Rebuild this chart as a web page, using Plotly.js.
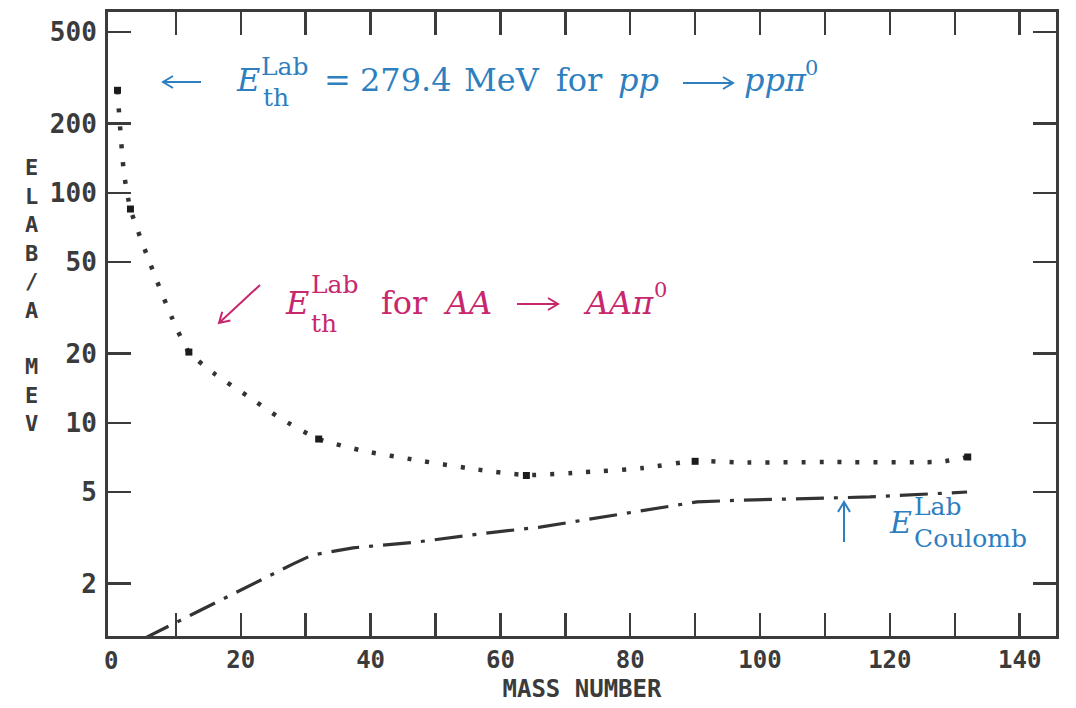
<!DOCTYPE html>
<html><head><meta charset="utf-8">
<script src="https://cdn.plot.ly/plotly-3.0.1.min.js"></script>
<style>html,body{margin:0;padding:0;background:#fff}#chart{width:1076px;height:708px}</style>
</head><body><div id="chart"></div>
<script>
// Data
const massNumbers = [1, 3, 12, 32, 64, 90, 132];
const thresholdPerNucleon = [279, 85, 20.3, 8.5, 5.9, 6.8, 7.1];
const curveMass = [1, 2, 3, 6, 9.4, 12, 16, 21, 26, 32, 39, 47, 56, 64, 73, 82, 90, 97, 110, 128, 132];
const curveThreshold = [279, 122, 85, 49.5, 28.6, 20.3, 16.3, 13.1, 10.5, 8.5, 7.54, 6.89, 6.29, 5.93, 6.1, 6.36, 6.82, 6.72, 6.75, 6.78, 7.1];
const coulombMass = [5, 15.4, 21.7, 28, 31, 37.3, 47.1, 56.5, 66.1, 75.7, 85.7, 90.3, 97.2, 106.9, 116.9, 131.9];
const coulombBarrier = [1.15, 1.61, 1.99, 2.43, 2.66, 2.86, 3.03, 3.28, 3.52, 3.89, 4.30, 4.53, 4.61, 4.67, 4.76, 5.0];
const xTickVals = [20, 40, 60, 80, 100, 120, 140];
const xTickText = ['20', '40', '60', '80', '100', '120', '140'];
const xMinorTickVals = [10, 30, 50, 70, 90, 110, 130];
const xZeroLabel = '0';
const yTickVals = [2, 5, 10, 20, 50, 100, 200, 500];
const yTickText = ['2', '5', '10', '20', '50', '100', '200', '500'];

const AX = '#3b3b3b';
const BLUE = '#2e7fc0';
const PINK = '#c8276e';
const SERIF = 'DejaVu Serif, Liberation Serif, serif';
const MONO = 'DejaVu Sans Mono, Liberation Mono, monospace';

const L = 108, T = 12, W = 948, H = 624;
const fx = px => (px - L) / W;
const fy = py => (T + H - py) / H;
function ann(text, cx, cy, size, color, anchor, family, italic) {
  const font = {family: family || SERIF, size: size, color: color};
  if (italic) font.style = 'italic';
  return {xref: 'paper', yref: 'paper', x: fx(cx), y: fy(cy),
    text: text, showarrow: false, xanchor: anchor || 'center', yanchor: 'middle', font: font};
}
function annB(text, cx, base, size, color, anchor, italic) {
  return ann(text, cx, base - 0.36 * size, size, color, anchor, SERIF, italic);
}
function arrow(x0, y0, x1, y1, color) {
  const dx = x1 - x0, dy = y1 - y0, len = Math.hypot(dx, dy);
  const ux = dx / len, uy = dy / len, h = 10, s = 0.6;
  const ax = x1 - h * ux + h * s * (-uy), ay = y1 - h * uy + h * s * ux;
  const bx = x1 - h * ux - h * s * (-uy), by = y1 - h * uy - h * s * ux;
  const P = (a, b) => fx(a) + ',' + fy(b);
  return {type: 'path', xref: 'paper', yref: 'paper',
    path: 'M' + P(x0, y0) + ' L' + P(x1, y1) + ' M' + P(ax, ay) + ' L' + P(x1, y1) + ' L' + P(bx, by),
    line: {color: color, width: 2}};
}

const SZ = 32, SM = 25, SUP = 21;
const annotations = [
  annB('E', 248, 92, SZ, BLUE, 'center', true),
  annB('Lab', 259, 75, SM, BLUE, 'left'),
  annB('th', 261, 107, SM, BLUE, 'left'),
  annB('=', 337, 92, SZ, BLUE),
  annB('279.4', 406, 92, SZ, BLUE),
  annB('MeV', 502, 92, SZ, BLUE),
  annB('for', 579, 92, SZ, BLUE),
  annB('pp', 638, 92, SZ, BLUE, 'center', true),
  annB('ppπ', 742, 92, SZ, BLUE, 'left', true),
  annB('0', 803, 76, SUP, BLUE, 'left'),

  annB('E', 297, 315, SZ, PINK, 'center', true),
  annB('Lab', 309, 293, SM, PINK, 'left'),
  annB('th', 309, 332, SM, PINK, 'left'),
  annB('for', 404, 315, SZ, PINK),
  annB('AA', 467, 315, SZ, PINK, 'center', true),
  annB('AAπ', 618, 315, SZ, PINK, 'center', true),
  annB('0', 652, 298, SUP, PINK, 'left'),

  annB('E', 900, 533, 30, BLUE, 'center', true),
  annB('Lab', 912, 515, SM, BLUE, 'left'),
  annB('Coulomb', 912, 547, SM, BLUE, 'left'),

  ann('<b>E<br>L<br>A<br>B<br>/<br>A</b>', 31, 239, 22, AX, 'center', MONO),
  ann('<b>M<br>E<br>V</b>', 31, 395, 22, AX, 'center', MONO),
  {xref: 'x', yref: 'paper', x: 0, y: fy(645), text: '<b>' + xZeroLabel + '</b>', showarrow: false,
   xanchor: 'center', yanchor: 'top', font: {family: MONO, size: 24, color: AX}}
];

const shapes = [
  arrow(201, 82, 163, 82, BLUE),
  arrow(683, 83, 733, 83, BLUE),
  arrow(260, 285, 219, 323, PINK),
  arrow(517, 304, 558, 304, PINK),
  arrow(844, 542, 844, 502, BLUE)
];

const traces = [
  {x: curveMass, y: curveThreshold, type: 'scatter', mode: 'lines',
   line: {color: '#333', width: 4.5, dash: '4px,14px', shape: 'spline', smoothing: 0.6}, hoverinfo: 'skip'},
  {x: coulombMass, y: coulombBarrier, type: 'scatter', mode: 'lines',
   line: {color: '#333', width: 3.2, dash: '28px,10px,4px,10px'}, hoverinfo: 'skip'},
  {x: massNumbers, y: thresholdPerNucleon, type: 'scatter', mode: 'markers',
   marker: {symbol: 'square', size: 7, color: '#1c1c1c'}}
];

const layout = {
  width: 1076, height: 708,
  margin: {l: L, r: 1076 - L - W, t: T, b: 708 - T - H},
  paper_bgcolor: '#fff', plot_bgcolor: '#fff',
  showlegend: false,
  xaxis: {range: [-0.46, 145.6], tickmode: 'array', tickvals: xTickVals, ticktext: xTickText,
    ticks: 'inside', ticklen: 23, tickwidth: 2.5, tickcolor: AX,
    minor: {tickmode: 'array', tickvals: xMinorTickVals, ticks: 'inside', ticklen: 23, tickwidth: 2.5, tickcolor: AX, showgrid: false},
    showline: true, linewidth: 3, linecolor: AX, mirror: 'allticks',
    showgrid: false, zeroline: false, ticklabelstandoff: 0,
    tickfont: {family: MONO, size: 24, color: AX, weight: 'bold'},
    title: {text: '<b>MASS NUMBER</b>', font: {family: MONO, size: 24, color: AX}, standoff: 8}},
  yaxis: {type: 'log', range: [0.073, 2.786], tickmode: 'array', tickvals: yTickVals, ticktext: yTickText,
    ticks: 'inside', ticklen: 23, tickwidth: 2.5, tickcolor: AX,
    showline: true, linewidth: 3, linecolor: AX, mirror: 'allticks',
    showgrid: false, zeroline: false, ticklabelstandoff: 3,
    tickfont: {family: MONO, size: 26, color: AX, weight: 'bold'}},
  annotations: annotations,
  shapes: shapes
};

Plotly.newPlot('chart', traces, layout, {staticPlot: true});
</script>
</body></html>
